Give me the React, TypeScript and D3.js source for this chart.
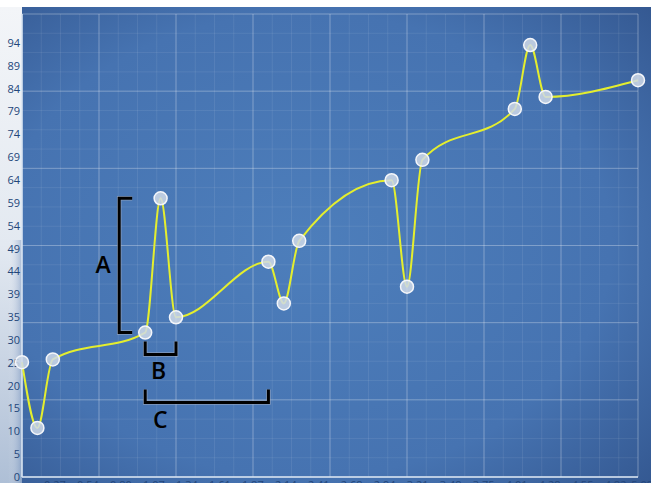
import React from "react";
import * as d3 from "d3";

const xValues = [0, 0.125, 0.25, 1, 1.125, 1.25, 2, 2.125, 2.25, 3, 3.125, 3.25, 4, 4.125, 4.25, 5];
const yValues = [24.8, 10.6, 25.4, 31.2, 60.2, 34.5, 46.5, 37.5, 51.0, 64.1, 41.1, 68.5, 79.5, 93.3, 82.1, 85.7];
const xTickStep = 0.26765;
const xTickCount = 19;
const yTickStep = 4.935;
const yTickCount = 20;
const xTicks = d3.range(1, xTickCount + 1).map((k) => k * xTickStep);
const yTicks = d3.range(0, yTickCount).map((k) => k * yTickStep);
// annotations: [label, fromIndex, toIndex]
const bracketA = { label: "A", from: 3, to: 4 };
const bracketB = { label: "B", from: 3, to: 5 };
const bracketC = { label: "C", from: 3, to: 6 };

const W = 651;
const H = 483;
const L = 22;
const R = 638;
const T = 14;
const B = 477;

export default function App() {
  const x = d3.scaleLinear().domain([0, 5]).range([L, R]);
  const y = d3.scaleLinear().domain([0, 100]).range([B, T]);
  const pts = xValues.map((v, i) => [v, yValues[i]] as [number, number]);
  const line = d3
    .line<[number, number]>()
    .x((d) => x(d[0]))
    .y((d) => y(d[1]))
    .curve(d3.curveMonotoneX);

  const minorX = d3.range(0, 33).map((k) => L + (k * (R - L)) / 32);
  const minorY = d3.range(0, 25).map((k) => T + (k * (B - T)) / 24);
  const majorX = d3.range(0, 9).map((k) => L + (k * (R - L)) / 8);
  const majorY = d3.range(0, 7).map((k) => T + (k * (B - T)) / 6);

  const aTop = y(yValues[bracketA.to]);
  const aBot = y(yValues[bracketA.from]);
  const aX = x(xValues[bracketA.from]) - 26;
  const bL = x(xValues[bracketB.from]);
  const bR = x(xValues[bracketB.to]);
  const bY = y(yValues[bracketB.from]) + 22;
  const cL = x(xValues[bracketC.from]);
  const cR = x(xValues[bracketC.to]);
  const cY = bY + 48;

  const bracketPaths = [
    `M${aX + 13},${aTop} H${aX} V${aBot} H${aX + 13}`,
    `M${bL},${bY - 13} V${bY} H${bR} V${bY - 13}`,
    `M${cL},${cY - 13} V${cY} H${cR} V${cY - 13}`,
  ];

  return (
    <svg
      width={W}
      height={H}
      style={{ position: "absolute", left: 0, top: 0 }}
      fontFamily="'Open Sans', 'DejaVu Sans', sans-serif"
    >
      <defs>
        <radialGradient id="panel" cx="0.45" cy="0.5" r="0.75">
          <stop offset="0" stopColor="#4d7ebb" />
          <stop offset="0.65" stopColor="#4673b1" />
          <stop offset="1" stopColor="#345891" />
        </radialGradient>
        <linearGradient id="leftStrip" x1="0" y1="0" x2="0" y2="1">
          <stop offset="0" stopColor="#f3f5f8" />
          <stop offset="0.5" stopColor="#e3e9f1" />
          <stop offset="1" stopColor="#aebfd6" />
        </linearGradient>
        <linearGradient id="leftFade" x1="0" y1="0" x2="1" y2="0">
          <stop offset="0" stopColor="#ffffff" stopOpacity="0" />
          <stop offset="1" stopColor="#3e66a3" stopOpacity="0.35" />
        </linearGradient>
      </defs>
      <rect x={0} y={0} width={W} height={H} fill="#ffffff" />
      <rect x={0} y={7} width={L} height={H - 7} fill="url(#leftStrip)" />
      <rect x={8} y={240} width={L - 8} height={H - 240} fill="url(#leftFade)" />
      <rect x={L} y={7} width={W - L} height={H - 7} fill="url(#panel)" />

      {minorX.map((v, i) => (
        <line key={"mx" + i} x1={v} x2={v} y1={T} y2={B} stroke="#ffffff" strokeOpacity={0.08} />
      ))}
      {minorY.map((v, i) => (
        <line key={"my" + i} x1={L} x2={R} y1={v} y2={v} stroke="#ffffff" strokeOpacity={0.08} />
      ))}
      {majorX.map((v, i) => (
        <line key={"Mx" + i} x1={v} x2={v} y1={T} y2={B} stroke="#ffffff" strokeOpacity={0.25} />
      ))}
      {majorY.map((v, i) => (
        <line key={"My" + i} x1={L} x2={R} y1={v} y2={v} stroke="#ffffff" strokeOpacity={0.25} />
      ))}

      <line x1={L} x2={L} y1={T} y2={B} stroke="#d8e4f2" strokeWidth={1.5} />
      <line x1={L} x2={R} y1={B} y2={B} stroke="#d8e4f2" strokeWidth={1.5} />

      {yTicks.map((v, i) => (
        <text key={"yt" + i} x={20} y={y(v) + 4} textAnchor="end" fontSize={11} fill="#23467a">
          {d3.format(".0f")(v)}
        </text>
      ))}
      {xTicks.map((v, i) => {
        const px = x(v);
        const last = px > R;
        return (
          <text
            key={"xt" + i}
            x={last ? W + 2 : px}
            y={489}
            textAnchor={last ? "end" : "middle"}
            fontSize={11}
            fill="#23467a"
          >
            {d3.format(".2f")(v)}
          </text>
        );
      })}

      <path d={line(pts) || ""} fill="none" stroke="#e4ee2e" strokeWidth={2} />
      {pts.map((d, i) => (
        <circle
          key={"p" + i}
          cx={x(d[0])}
          cy={y(d[1])}
          r={6.5}
          fill="#cfd9e8"
          fillOpacity={0.85}
          stroke="#f4f6fa"
          strokeWidth={1.5}
        />
      ))}

      {bracketPaths.map((p, i) => (
        <g key={"br" + i}>
          <path d={p} fill="none" stroke="#b0b8c4" strokeOpacity={0.6} strokeWidth={4.5} />
          <path d={p} fill="none" stroke="#000000" strokeWidth={3} />
        </g>
      ))}
      <text x={103} y={(aTop + aBot) / 2 + 8} textAnchor="middle" fontSize={23} fontWeight={600} fill="#000">
        {bracketA.label}
      </text>
      <text x={(bL + bR) / 2 - 2} y={bY + 24} textAnchor="middle" fontSize={23} fontWeight={600} fill="#000">
        {bracketB.label}
      </text>
      <text x={cL + 15} y={cY + 25} textAnchor="middle" fontSize={23} fontWeight={600} fill="#000">
        {bracketC.label}
      </text>
    </svg>
  );
}
